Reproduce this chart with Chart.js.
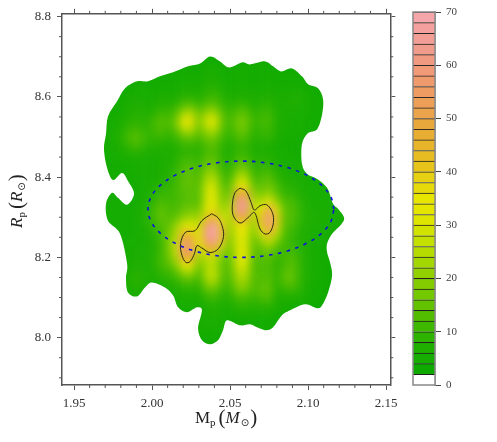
<!DOCTYPE html>
<html>
<head>
<meta charset="utf-8">
<style>
  body { margin: 0; background: #fff; }
  canvas { position: absolute; top: 0; }
  #mapChart { left: 0; }
  #barChart { left: 405px; }
</style>
<script src="https://cdn.jsdelivr.net/npm/chart.js@4"></script>
</head>
<body>
<canvas id="mapChart" width="405" height="442"></canvas>
<canvas id="barChart" width="92" height="442"></canvas>
<script>
// axis ticks
const xTicks = [1.95, 2.00, 2.05, 2.10, 2.15];
const yTicks = [8.0, 8.2, 8.4, 8.6, 8.8];
const xMinor = [1.96, 1.97, 1.98, 1.99, 2.01, 2.02, 2.03, 2.04, 2.06, 2.07, 2.08, 2.09, 2.11, 2.12, 2.13, 2.14];
const yMinor = [7.90, 7.95, 8.05, 8.10, 8.15, 8.25, 8.30, 8.35, 8.45, 8.50, 8.55, 8.65, 8.70, 8.75];
const barTicks = [0, 10, 20, 30, 40, 50, 60, 70];

// colour bar, one colour per band of 2 starting at 2 (0-2 is left white)
const bandColors = ['#0FAA00', '#17AD00', '#1FAF00', '#2EB300', '#3FB800', '#52BD00', '#62C200', '#74C800', '#84CC00',
  '#93D000', '#A4D600', '#B5DB00', '#C4E000', '#D2E300', '#DEE500', '#E4E600', '#E6E600', '#E6DA0A', '#E6D012', '#E6C41A',
  '#E6BC22', '#E8B42A', '#E8AE33', '#E9A83C', '#EBA34C', '#ED9F58', '#EE9C62', '#EF9A6D', '#F09A78', '#F19A82', '#F19B8D',
  '#F29D96', '#F3A09F', '#F4A6AA'];

// density cells: centres of the columns and rows
const cellX = [1.965, 1.970, 1.975, 1.980, 1.985, 1.990, 1.995, 2.000, 2.005, 2.010, 2.015, 2.020, 2.025, 2.030, 2.035, 2.040, 2.045,
  2.050, 2.055, 2.060, 2.065, 2.070, 2.075, 2.080, 2.085, 2.090, 2.095, 2.100, 2.105, 2.110, 2.115, 2.120, 2.125, 2.130];
const cellY = [8.72, 8.70, 8.68, 8.66, 8.64, 8.62, 8.60, 8.58, 8.56, 8.54, 8.52, 8.50, 8.48, 8.46, 8.44, 8.42, 8.40, 8.38, 8.36, 8.34,
  8.32, 8.30, 8.28, 8.26, 8.24, 8.22, 8.20, 8.18, 8.16, 8.14, 8.12, 8.10, 8.08, 8.06, 8.04, 8.02, 8.00, 7.98, 7.96];
const density = [
  [3,3,3,3,3,3,3,3,3,3,3,3,3,3,3,3,3,3,3,3,3,3,3,3,3,3,3,3,3,3,3,3,3,3],
  [3,3,3,3,3,3,3,3,3,3,3,3,3,3,3,3,3,3,3,3,3,3,3,3,3,3,3,3,3,3,3,3,3,3],
  [3,3,3,3,3,3,3,3,3,3,3,4,4,4,5,5,4,4,4,4,4,4,4,4,3,3,3,3,3,3,3,3,3,3],
  [3,3,3,3,3,3,3,4,4,4,4,4,4,4,6,6,4,4,5,5,4,4,5,4,4,4,3,3,3,3,3,3,3,3],
  [3,3,3,4,4,4,4,4,4,4,4,5,5,5,7,7,5,4,5,5,4,4,5,4,4,4,4,3,3,3,3,3,3,3],
  [3,3,4,4,4,5,5,4,5,5,5,6,6,6,8,9,6,5,6,6,5,5,6,5,5,5,5,4,4,3,3,3,3,3],
  [3,4,4,4,5,6,5,5,6,6,6,8,9,7,10,11,8,6,7,7,6,6,7,6,6,7,6,5,4,4,3,3,3,3],
  [3,4,4,5,6,7,6,6,8,8,9,13,15,10,14,15,10,8,10,10,7,8,9,6,6,7,6,5,4,4,3,3,3,3],
  [4,4,4,5,7,8,7,7,11,10,12,23,25,15,22,24,13,10,14,14,9,10,11,7,6,6,5,5,4,4,3,3,3,3],
  [4,4,5,6,8,9,8,10,14,12,16,34,36,17,29,33,15,11,17,17,10,11,12,7,6,5,5,4,4,4,3,3,3,3],
  [4,4,5,7,10,11,9,10,13,11,14,25,26,15,24,26,14,10,16,16,9,10,11,7,6,5,5,4,4,3,3,3,3,3],
  [4,4,6,8,12,14,11,9,11,9,10,15,16,12,17,18,11,9,13,13,8,9,10,6,5,5,4,4,4,3,3,3,3,3],
  [4,4,5,7,10,12,9,8,8,7,8,10,11,9,13,14,9,7,10,10,7,7,7,5,5,4,4,4,3,3,3,3,3,3],
  [4,4,5,6,7,8,7,6,6,6,7,9,9,8,12,13,8,7,10,10,7,7,7,5,5,4,4,4,3,3,3,3,3,3],
  [4,4,4,5,5,5,5,5,6,6,8,11,12,10,15,15,9,7,13,13,8,8,8,6,5,5,4,4,4,3,3,3,3,3],
  [4,4,4,4,5,5,5,5,6,7,9,13,14,11,18,19,10,9,17,18,9,10,11,7,6,5,5,4,4,4,3,3,3,3],
  [4,4,4,4,4,5,5,5,6,8,10,14,15,12,23,24,12,11,24,25,11,12,14,9,7,6,5,5,4,4,4,3,3,3],
  [4,4,4,4,4,4,5,6,8,9,11,14,15,13,27,29,14,14,34,34,15,14,17,12,8,8,6,5,5,4,4,4,3,3],
  [4,4,4,4,4,4,5,7,10,10,11,13,14,13,29,31,16,17,48,48,20,17,21,14,9,9,7,5,5,5,4,4,3,3],
  [4,4,4,4,4,4,5,8,12,11,11,13,14,13,30,32,18,22,60,62,24,24,34,20,12,12,8,6,5,5,5,4,4,3],
  [4,4,4,4,4,5,6,10,15,12,12,15,17,16,32,36,21,26,62,64,26,34,54,32,13,13,9,6,6,5,5,4,4,3],
  [4,4,4,4,4,5,6,10,15,13,14,20,22,22,40,48,28,24,50,50,24,42,62,40,14,13,9,7,6,6,5,4,4,3],
  [4,4,4,4,4,5,6,9,13,14,20,30,32,28,56,68,40,22,36,36,20,40,60,38,13,12,8,6,6,5,5,4,4,3],
  [4,4,4,4,4,5,5,8,11,15,24,44,42,30,64,76,46,20,32,32,17,30,46,26,12,10,7,6,5,5,4,4,3,3],
  [4,4,4,4,5,5,5,7,10,16,26,54,52,32,56,66,40,18,30,30,15,20,28,18,11,10,7,6,5,5,4,4,3,3],
  [4,4,4,4,5,6,6,7,10,16,28,58,56,28,42,46,24,16,31,31,14,15,18,12,11,11,8,6,5,4,4,3,3,3],
  [3,3,4,4,5,6,6,7,11,15,24,48,48,22,26,28,16,15,32,32,14,13,14,10,11,13,9,6,5,4,4,3,3,3],
  [3,3,3,4,6,7,6,7,11,13,18,32,34,16,24,25,14,14,29,29,13,12,13,8,12,14,9,6,5,4,3,3,3,3],
  [3,3,3,4,6,8,7,6,9,10,12,20,22,12,25,27,14,13,25,25,13,12,13,9,14,15,9,6,5,4,3,3,3,3],
  [3,3,3,4,7,9,7,6,7,8,9,12,13,10,22,24,13,12,22,22,13,13,14,9,14,15,9,6,5,4,3,3,3,3],
  [3,3,3,4,6,7,6,5,5,6,7,8,9,8,15,16,10,10,18,18,12,14,15,8,10,11,8,5,4,4,3,3,3,3],
  [3,3,3,3,5,5,5,4,4,5,5,6,6,6,10,11,8,8,12,12,10,12,13,7,7,7,6,5,4,4,3,3,3,3],
  [3,3,3,3,4,4,4,4,4,4,4,5,5,5,7,8,6,6,9,9,8,8,9,6,5,5,4,4,3,3,3,3,3,3],
  [3,3,3,3,3,3,3,3,3,4,4,4,4,5,6,7,5,5,6,7,6,6,6,5,4,4,3,3,3,3,3,3,3,3],
  [3,3,3,3,3,3,3,3,3,3,3,3,3,5,6,6,5,4,4,5,4,4,4,4,3,3,3,3,3,3,3,3,3,3],
  [3,3,3,3,3,3,3,3,3,3,3,3,3,5,5,5,5,4,4,4,4,4,4,4,3,3,3,3,3,3,3,3,3,3],
  [3,3,3,3,3,3,3,3,3,3,3,3,3,4,4,4,4,3,3,3,3,3,3,3,3,3,3,3,3,3,3,3,3,3],
  [3,3,3,3,3,3,3,3,3,3,3,3,3,3,3,3,3,3,3,3,3,3,3,3,3,3,3,3,3,3,3,3,3,3],
  [3,3,3,3,3,3,3,3,3,3,3,3,3,3,3,3,3,3,3,3,3,3,3,3,3,3,3,3,3,3,3,3,3,3]
];

// edge of the coloured region, clockwise from the top bump
const edgeX = [2.0372, 2.0436, 2.0494, 2.0577, 2.0628, 2.0724, 2.0776, 2.0827, 2.0897, 2.0961, 2.1000, 2.1064, 2.1096, 2.1090, 2.1058, 2.1000,
  2.0961, 2.0961, 2.0994, 2.1058, 2.1122, 2.1160, 2.1192, 2.1231, 2.1211, 2.1154, 2.1122, 2.1122, 2.1141, 2.1154, 2.1128, 2.1090, 2.1058, 2.0981,
  2.0885, 2.0833, 2.0776, 2.0731, 2.0673, 2.0628, 2.0564, 2.0481, 2.0455, 2.0423, 2.0372, 2.0320, 2.0295, 2.0320, 2.0288, 2.0224, 2.0167, 2.0135,
  2.0083, 2.0000, 1.9955, 1.9904, 1.9846, 1.9833, 1.9840, 1.9795, 1.9718, 1.9705, 1.9744, 1.9782, 1.9840, 1.9885, 1.9846, 1.9808, 1.9750, 1.9712,
  1.9692, 1.9705, 1.9718, 1.9776, 1.9827, 1.9904, 1.9974, 2.0051, 2.0135, 2.0231, 2.0308];
const edgeY = [8.7008, 8.6884, 8.6735, 8.6859, 8.6809, 8.6884, 8.6760, 8.6635, 8.6710, 8.6511, 8.6313, 8.6214, 8.5941, 8.5569, 8.5196, 8.5097,
  8.4824, 8.4328, 8.4080, 8.3956, 8.3733, 8.3336, 8.3212, 8.2988, 8.2815, 8.2591, 8.2343, 8.2120, 8.1872, 8.1549, 8.1128, 8.0805, 8.0731, 8.0830,
  8.0681, 8.0557, 8.0259, 8.0185, 8.0259, 8.0334, 8.0309, 8.0433, 8.0185, 7.9937, 7.9838, 7.9937, 8.0234, 8.0681, 8.0755, 8.0631, 8.0755, 8.1053,
  8.1252, 8.1376, 8.1252, 8.1028, 8.1128, 8.1475, 8.1847, 8.2591, 8.2914, 8.3336, 8.3609, 8.3485, 8.3311, 8.3584, 8.3906, 8.4105, 8.3931, 8.4229,
  8.4700, 8.5072, 8.5519, 8.5891, 8.6214, 8.6387, 8.6387, 8.6511, 8.6611, 8.6760, 8.6834];

// black contours
const contourAX = [2.0383, 2.0423, 2.0449, 2.0458, 2.0426, 2.0372, 2.0320, 2.0288, 2.0272, 2.0244, 2.0218, 2.0192, 2.0183, 2.0215, 2.0276, 2.0319, 2.0383];
const contourAY = [8.3087, 8.2988, 8.2790, 8.2517, 8.2219, 8.2120, 8.2232, 8.2294, 8.2095, 8.1897, 8.1872, 8.2046, 8.2343, 8.2629, 8.2666, 8.2914, 8.3087];
const contourBX = [2.0564, 2.0601, 2.0635, 2.0656, 2.0692, 2.0735, 2.0771, 2.0778, 2.0756, 2.0724, 2.0692, 2.0656, 2.0617, 2.0564, 2.0521, 2.0515, 2.0532, 2.0564];
const contourBY = [8.3725, 8.3658, 8.3368, 8.3179, 8.3286, 8.3311, 8.3120, 8.2872, 8.2624, 8.2584, 8.2708, 8.3120, 8.2996, 8.2857, 8.3038, 8.3328, 8.3616, 8.3725];

// blue dashed ellipse
const ringX = [2.1166, 2.1146, 2.1086, 2.0991, 2.0868, 2.0724, 2.0570, 2.0416, 2.0272, 2.0149, 2.0054, 1.9994, 1.9974, 1.9994, 2.0054, 2.0149, 2.0272, 2.0416, 2.0570, 2.0724, 2.0868, 2.0991, 2.1086, 2.1146, 2.1166];
const ringY = [8.3200, 8.3511, 8.3800, 8.4049, 8.4239, 8.4359, 8.4400, 8.4359, 8.4239, 8.4049, 8.3800, 8.3511, 8.3200, 8.2889, 8.2600, 8.2351, 8.2161, 8.2041, 8.2000, 8.2041, 8.2161, 8.2351, 8.2600, 8.2889, 8.3200];

function zip(xs, ys) {
    return xs.map((x, i) => ({ x: x, y: ys[i] }));
}

function hexRgb(h) {
    return [1, 3, 5].map(i => parseInt(h.substr(i, 2), 16));
}

// colours blend between band centres so the map stays smooth
function bandColor(v) {
    const pos = Math.max(Math.min(v / 2 - 1.5, bandColors.length - 1), 0);
    const lo = Math.floor(pos), hi = Math.min(lo + 1, bandColors.length - 1), t = pos - lo;
    const a = hexRgb(bandColors[lo]), b = hexRgb(bandColors[hi]);
    return 'rgb(' + a.map((c, i) => Math.round(c + (b[i] - c) * t)).join(',') + ')';
}

// paints the cells on a spare canvas, blurs them and clips to the region edge
const densityPlugin = {
    id: 'density',
    beforeDatasetsDraw(chart) {
        const sx = chart.scales.x, sy = chart.scales.y, ctx = chart.ctx;
        const off = document.createElement('canvas');
        off.width = chart.width;
        off.height = chart.height;
        const oc = off.getContext('2d');
        const halfX = 0.0025, halfY = 0.01;
        density.forEach((row, r) => {
            row.forEach((v, c) => {
                const l = sx.getPixelForValue(cellX[c] - halfX), t = sy.getPixelForValue(cellY[r] + halfY);
                const w = sx.getPixelForValue(cellX[c] + halfX) - l, h = sy.getPixelForValue(cellY[r] - halfY) - t;
                oc.fillStyle = bandColor(v);
                oc.fillRect(l, t, w + 0.5, h + 0.5);
            });
        });

        const px = edgeX.map(v => sx.getPixelForValue(v)), py = edgeY.map(v => sy.getPixelForValue(v));
        const n = px.length;
        ctx.save();
        ctx.beginPath();
        ctx.moveTo(px[0], py[0]);
        for (let i = 0; i < n; i++) {
            const p0 = (i - 1 + n) % n, p1 = i, p2 = (i + 1) % n, p3 = (i + 2) % n;
            ctx.bezierCurveTo(px[p1] + (px[p2] - px[p0]) / 6, py[p1] + (py[p2] - py[p0]) / 6,
                px[p2] - (px[p3] - px[p1]) / 6, py[p2] - (py[p3] - py[p1]) / 6, px[p2], py[p2]);
        }
        ctx.closePath();
        ctx.clip();
        ctx.filter = 'blur(4.5px)';
        ctx.drawImage(off, 0, 0);
        ctx.restore();
    }
};

function drawText(ctx, parts) {
    let pos = 0;
    parts.forEach(p => {
        ctx.font = p.font;
        ctx.fillText(p.text, pos, p.dy || 0);
        pos += ctx.measureText(p.text).width + (p.gap || 0);
    });
}

const frameTicksPlugin = {
    id: 'frameTicks',
    afterDraw(chart) {
        const ctx = chart.ctx, a = chart.chartArea, sx = chart.scales.x, sy = chart.scales.y;
        ctx.save();
        ctx.strokeStyle = '#555';
        ctx.lineWidth = 1;
        ctx.beginPath();
        xMinor.forEach(v => {
            const p = sx.getPixelForValue(v);
            ctx.moveTo(p, a.top); ctx.lineTo(p, a.top - 3);
            ctx.moveTo(p, a.bottom); ctx.lineTo(p, a.bottom + 3);
        });
        yMinor.forEach(v => {
            const p = sy.getPixelForValue(v);
            ctx.moveTo(a.left, p); ctx.lineTo(a.left - 3, p);
            ctx.moveTo(a.right, p); ctx.lineTo(a.right + 3, p);
        });
        ctx.stroke();

        // axis titles
        const serif = '"Liberation Serif"';
        ctx.fillStyle = '#222';
        ctx.textBaseline = 'alphabetic';
        ctx.textAlign = 'left';
        ctx.save();
        ctx.translate(195, 423);
        drawText(ctx, [
            { text: 'M', font: '17px ' + serif },
            { text: 'p', font: '11px ' + serif, dy: 3, gap: 3 },
            { text: '(', font: '21px ' + serif, dy: 1 },
            { text: 'M', font: 'italic 17px ' + serif, gap: 1 },
            { text: '⊙', font: '10px "DejaVu Sans"', dy: 3, gap: 1 },
            { text: ')', font: '21px ' + serif, dy: 1 }
        ]);
        ctx.restore();
        ctx.save();
        ctx.translate(22, 228);
        ctx.rotate(-Math.PI / 2);
        drawText(ctx, [
            { text: 'R', font: 'italic 17px ' + serif },
            { text: 'p', font: '11px ' + serif, dy: 3, gap: 3 },
            { text: '(', font: '21px ' + serif, dy: 1 },
            { text: 'R', font: 'italic 17px ' + serif, gap: 1 },
            { text: '⊙', font: '10px "DejaVu Sans"', dy: 3, gap: 1 },
            { text: ')', font: '21px ' + serif, dy: 1 }
        ]);
        ctx.restore();
        ctx.restore();
    }
};

function lineSet(xs, ys, color, width, dash, tension) {
    return {
        type: 'scatter',
        data: zip(xs, ys),
        showLine: true,
        borderColor: color,
        borderWidth: width,
        borderDash: dash,
        tension: tension,
        pointRadius: 0,
        xAxisID: 'x',
        yAxisID: 'y'
    };
}

function tickFont(size) {
    return { family: '"Liberation Serif"', size: size };
}

function frameAxis(position, min, max, values, size, showLabels, digits) {
    return {
        type: 'linear',
        position: position,
        min: min,
        max: max,
        afterBuildTicks: s => { s.ticks = values.map(v => ({ value: v })); },
        afterFit: s => {
            if (s.isHorizontal()) s.height = size;
            else s.width = size;
        },
        border: { color: '#555', width: 1.5 },
        grid: { drawOnChartArea: false, tickColor: '#555', tickLength: 5, tickWidth: 1 },
        ticks: {
            display: showLabels,
            autoSkip: false,
            maxRotation: 0,
            padding: 6,
            color: '#333',
            font: tickFont(13),
            callback: v => v.toFixed(digits)
        }
    };
}

new Chart(document.getElementById('mapChart'), {
    type: 'scatter',
    data: {
        datasets: [
            lineSet(contourAX, contourAY, '#2a2a10', 1, [], 0.35),
            lineSet(contourBX, contourBY, '#2a2a10', 1, [], 0.35),
            lineSet(ringX, ringY, '#1111dd', 1.6, [3.5, 5.5], 0.35)
        ]
    },
    options: {
        responsive: false,
        animation: false,
        layout: { padding: 0 },
        plugins: { legend: { display: false }, tooltip: { enabled: false } },
        scales: {
            x: frameAxis('bottom', 1.9423, 2.1527, xTicks, 57, true, 2),
            x2: frameAxis('top', 1.9423, 2.1527, xTicks, 12, false, 2),
            y: frameAxis('left', 7.882, 8.807, yTicks, 62, true, 1),
            y2: frameAxis('right', 7.882, 8.807, yTicks, 14.7, false, 1)
        }
    },
    plugins: [densityPlugin, frameTicksPlugin]
});

// colour bar
const barDatasets = [{ data: [2], backgroundColor: '#fff', borderColor: '#222', borderWidth: { top: 1 }, borderSkipped: false }];
bandColors.forEach(c => {
    barDatasets.push({ data: [2], backgroundColor: c, borderColor: '#222', borderWidth: { top: 1 }, borderSkipped: false });
});

new Chart(document.getElementById('barChart'), {
    type: 'bar',
    data: { labels: [''], datasets: barDatasets },
    options: {
        responsive: false,
        animation: false,
        layout: { padding: { left: 8, top: 12, bottom: 57 } },
        datasets: { bar: { barPercentage: 1, categoryPercentage: 1, stack: 'bands' } },
        plugins: { legend: { display: false }, tooltip: { enabled: false } },
        scales: {
            x: { display: false, stacked: true },
            y: {
                stacked: true,
                position: 'right',
                min: 0,
                max: 70,
                afterBuildTicks: s => { s.ticks = barTicks.map(v => ({ value: v })); },
                afterFit: s => { s.width = 62; },
                border: { color: '#888', width: 1.5 },
                grid: { drawOnChartArea: false, tickColor: '#444', tickLength: 6 },
                ticks: { padding: 5, color: '#444', font: tickFont(11), autoSkip: false }
            }
        }
    },
    plugins: [{
        id: 'barFrame',
        afterDraw(chart) {
            const a = chart.chartArea, ctx = chart.ctx;
            ctx.save();
            ctx.strokeStyle = '#888';
            ctx.lineWidth = 1.5;
            ctx.strokeRect(a.left, a.top, a.right - a.left, a.bottom - a.top);
            ctx.restore();
        }
    }]
});
</script>
</body>
</html>
